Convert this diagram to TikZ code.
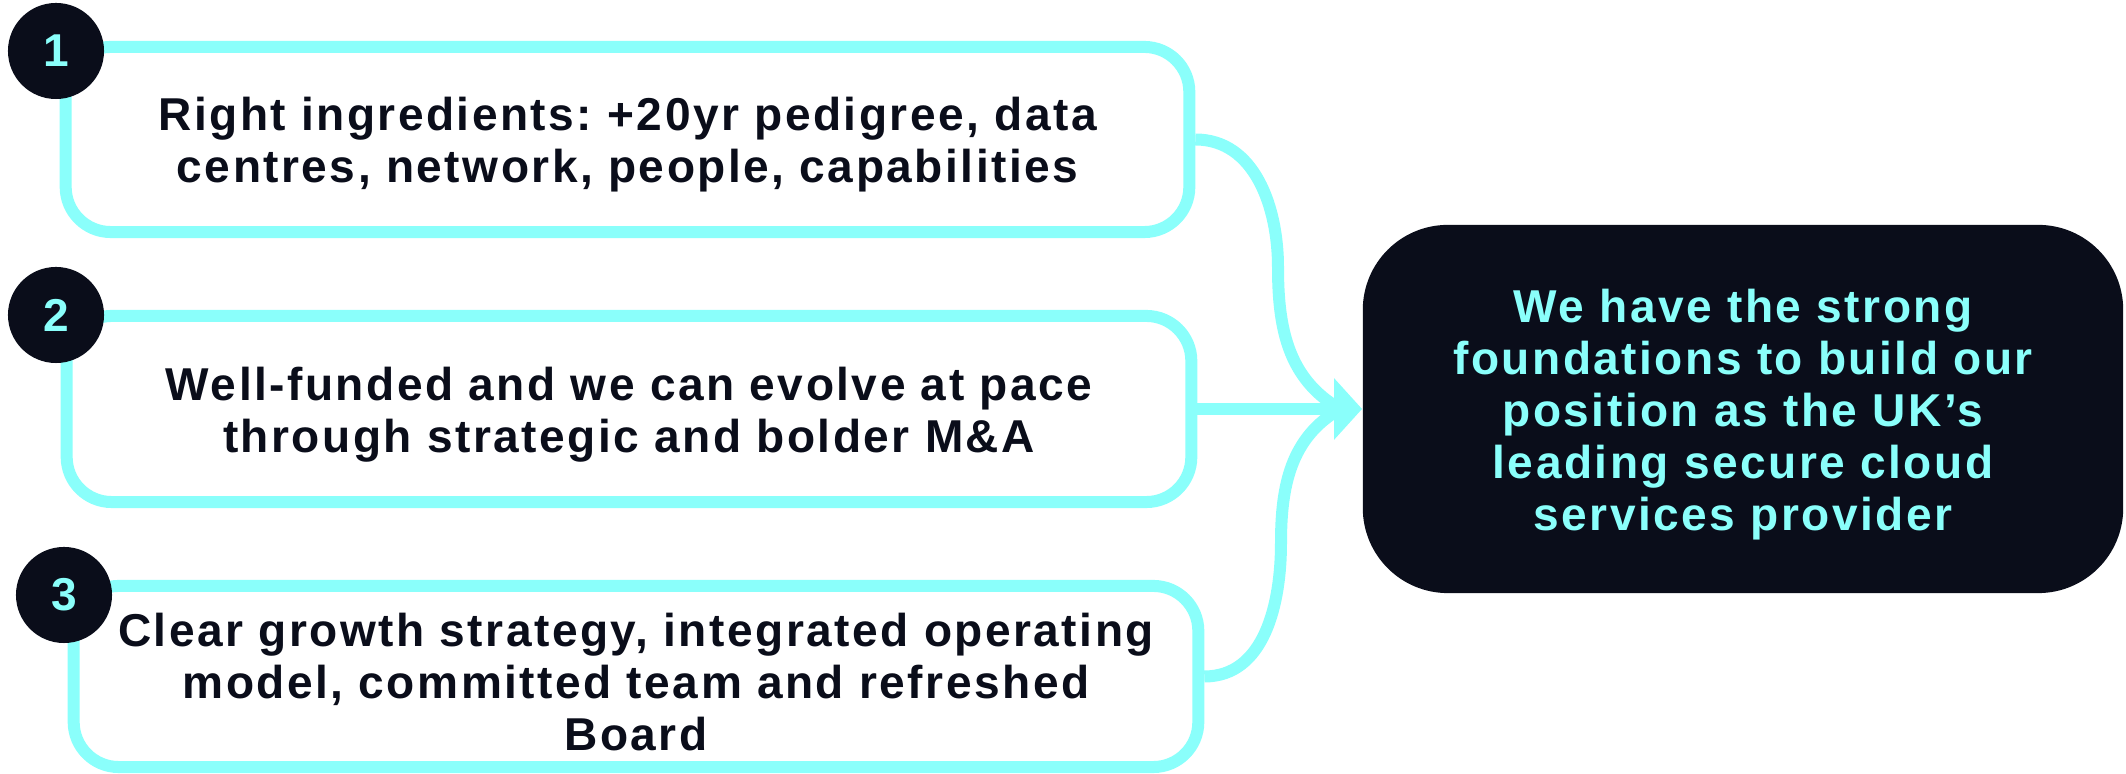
\documentclass[tikz,border=0pt]{standalone}
\usepackage{fontspec}
\setmainfont{Liberation Sans}
\newfontfamily\boxfont{Liberation Sans}[LetterSpace=5.4]
\usepackage{tikz}
\usetikzlibrary{shapes,arrows.meta}
\usetikzlibrary{positioning}
\definecolor{aqua}{HTML}{8AFFFB}
\definecolor{ink}{HTML}{0A0D1A}
\tikzstyle{flow} = [draw=aqua, line width=0.12cm]
\newcommand\topstrut{\rule{0pt}{0.44cm}}
\frenchspacing

\begin{document}
\begin{tikzpicture}[x=0.01cm, y=-0.01cm,
	box/.style={draw=aqua, line width=0.12cm, rounded corners=0.45cm,
		fill=white, align=center, inner sep=0pt, text=ink,
		font=\boxfont\bfseries\fontsize{13.1}{14.8}\selectfont},
	num/.style={circle, fill=ink, minimum size=0.96cm, inner sep=0pt,
		text=aqua, font=\boxfont\bfseries\fontsize{13.1}{14.8}\selectfont},
	goalbox/.style={rectangle, fill=ink, rounded corners=0.85cm,
		minimum width=7.6cm, minimum height=3.68cm, align=center,
		text=aqua, font=\boxfont\bfseries\fontsize{13.1}{14.8}\selectfont}]
	\useasboundingbox (0,0) rectangle (2126,774);
	%% Boxes
	\node [box, minimum width=11.23cm, minimum height=1.85cm] at (627.5,139.5) (B1)
		{\topstrut Right ingredients: +20yr pedigree, data\\centres, network, people, capabilities};
	\node [box, minimum width=11.24cm, minimum height=1.86cm] at (629,409) (B2)
		{\topstrut Well-funded and we can evolve at pace\\through strategic and bolder M\&A};
	\node [box, minimum width=11.24cm, minimum height=1.81cm] at (636,676.5) (B3)
		{\topstrut Clear growth strategy, integrated operating\\model, committed team and refreshed\\Board};
	\node [goalbox] at (1743,409) (G)
		{\topstrut We have the strong\\foundations to build our\\position as the UK’s\\leading secure cloud\\services provider};
	%% Numbers
	\node [num] at (56,51) (N1) {1};
	\node [num] at (56,315) (N2) {2};
	\node [num] at (64,595) (N3) {3};
	%% Flows
	\coordinate (U) at (1278,267);
	\coordinate (D) at (1281,543);
	\path [flow] (B1.east) to[out=0, in=90] (U) to[out=-90, in=150] ([xshift=-0.22cm]G.west);
	\path [flow] (B3.east) to[out=0, in=-90] (D) to[out=90, in=-150] ([xshift=-0.22cm]G.west);
	\path [flow, -{Triangle[length=0.28cm, width=0.6cm]}] (B2.east) -- (G.west);
\end{tikzpicture}
\end{document}
